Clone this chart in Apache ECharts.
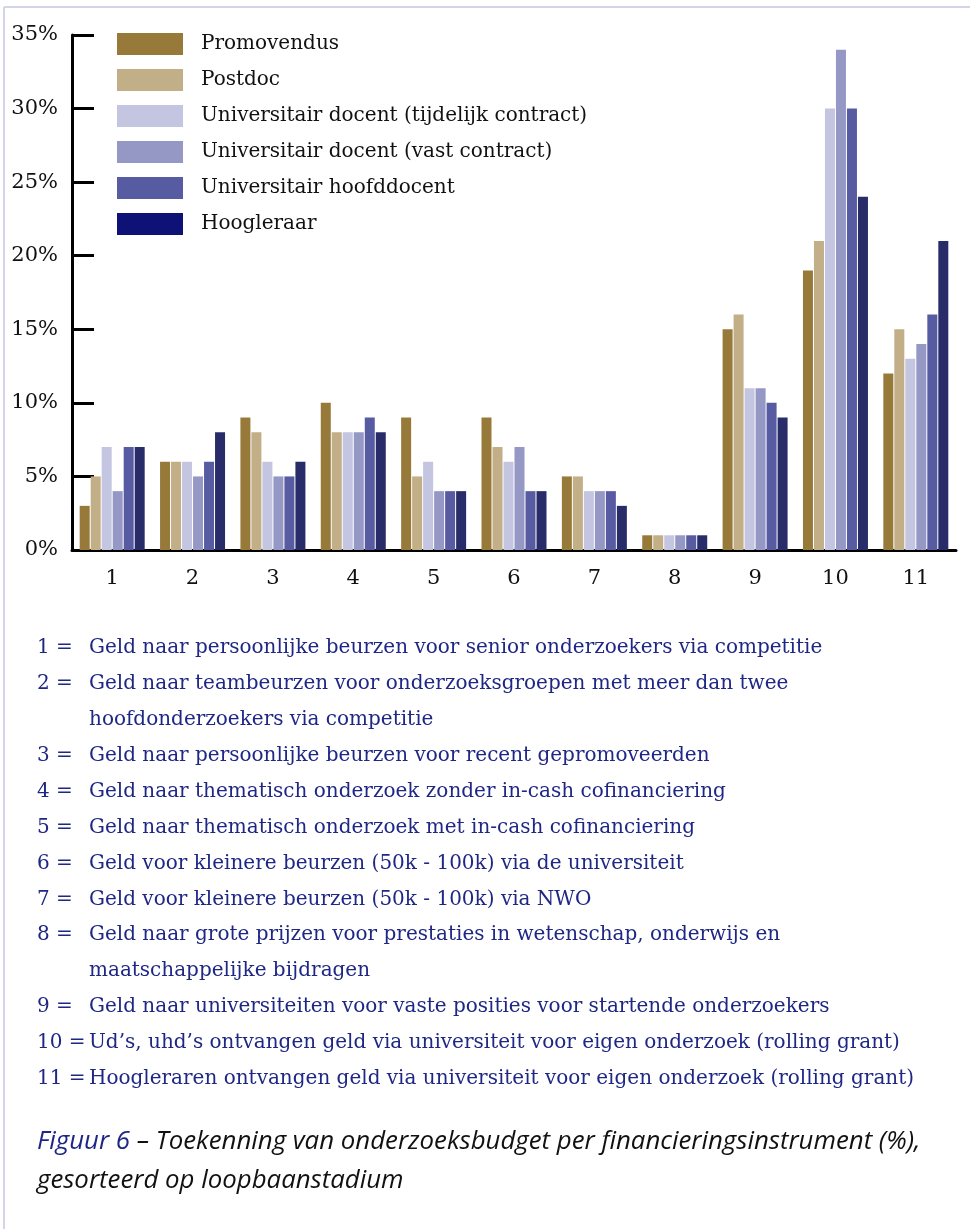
<!DOCTYPE html>
<html>
<head>
<meta charset="utf-8">
<script src="https://cdn.jsdelivr.net/npm/echarts@6/dist/echarts.min.js"></script>
<style>
html,body{margin:0;padding:0;background:#fff;}
#chart{width:970px;height:1229px;}
</style>
</head>
<body>
<div id="chart"></div>
<script>
// ---- data ----
const categories = ['1','2','3','4','5','6','7','8','9','10','11'];
const seriesNames = ['Promovendus','Postdoc','Universitair docent (tijdelijk contract)','Universitair docent (vast contract)','Universitair hoofddocent','Hoogleraar'];
const promovendus = [3,6,9,10,9,9,5,1,15,19,12];
const postdoc     = [5,6,8,8,5,7,5,1,16,21,15];
const udTijdelijk = [7,6,6,8,6,6,4,1,11,30,13];
const udVast      = [4,5,5,8,4,7,4,1,11,34,14];
const uhd         = [7,6,5,9,4,4,4,1,10,30,16];
const hoogleraar  = [7,8,6,8,4,4,3,1,9,24,21];
const yTicks = [0,5,10,15,20,25,30,35];
const footNumbers = ['1 =','2 =','','3 =','4 =','5 =','6 =','7 =','8 =','','9 =','10 =','11 ='];
const footTexts = [
 'Geld naar persoonlijke beurzen voor senior onderzoekers via competitie',
 'Geld naar teambeurzen voor onderzoeksgroepen met meer dan twee',
 'hoofdonderzoekers via competitie',
 'Geld naar persoonlijke beurzen voor recent gepromoveerden',
 'Geld naar thematisch onderzoek zonder in-cash cofinanciering',
 'Geld naar thematisch onderzoek met in-cash cofinanciering',
 'Geld voor kleinere beurzen (50k - 100k) via de universiteit',
 'Geld voor kleinere beurzen (50k - 100k) via NWO',
 'Geld naar grote prijzen voor prestaties in wetenschap, onderwijs en',
 'maatschappelijke bijdragen',
 'Geld naar universiteiten voor vaste posities voor startende onderzoekers',
 'Ud\u2019s, uhd\u2019s ontvangen geld via universiteit voor eigen onderzoek (rolling grant)',
 'Hoogleraren ontvangen geld via universiteit voor eigen onderzoek (rolling grant)'
];
const captionBlue = 'Figuur 6';
const captionLine1 = ' \u2013 Toekenning van onderzoeksbudget per financieringsinstrument (%),';
const captionLine2 = 'gesorteerd op loopbaanstadium';

// ---- styling ----
const barColors = ['#977a3a','#c2ae87','#c4c5e0','#9597c5','#575ba2','#282c68'];
const legendColors = ['#977a3a','#c2ae87','#c4c5e0','#9597c5','#575ba2','#0e1277'];
const serif = '"DejaVu Serif", serif';
const navy = '#1f2785';
const capFont = 'italic 25.8px "Open Sans", sans-serif';
const values = [promovendus, postdoc, udTijdelijk, udVast, uhd, hoogleraar];

const chart = echarts.init(document.getElementById('chart'), null, {renderer:'canvas'});

const graphics = [
  {type:'line', shape:{x1:4,y1:7,x2:970,y2:7}, style:{stroke:'#d3d3ea',lineWidth:2}, silent:true},
  {type:'line', shape:{x1:4,y1:7,x2:4,y2:1229}, style:{stroke:'#d3d3ea',lineWidth:2}, silent:true}
];
footTexts.forEach((t,i)=>{
  const y = 647 + i*35.9;
  if (footNumbers[i]) graphics.push({type:'text', left:37, top:y-9, style:{text:footNumbers[i], font:'20px '+serif, fill:navy}});
  graphics.push({type:'text', left:89, top:y-9, style:{text:t, font:'20px '+serif, fill:navy}});
});
graphics.push({type:'text', left:37, top:1129, style:{
  text:'{b|'+captionBlue+'}{k|'+captionLine1+'}',
  rich:{b:{fill:navy, font:capFont}, k:{fill:'#111', font:capFont}}
}});
graphics.push({type:'text', left:37, top:1168, style:{text:captionLine2, font:capFont, fill:'#111'}});

chart.setOption({
  animation:false,
  backgroundColor:'#fff',
  grid:{left:72, right:14, top:35, bottom:679, containLabel:false},
  legend:{
    orient:'vertical', left:117, top:33, padding:0, itemWidth:66, itemHeight:22, itemGap:14, icon:'rect',
    textStyle:{fontFamily:serif, fontSize:20, color:'#111', padding:[0,0,0,13]},
    data: seriesNames.map((n,i)=>({name:n, itemStyle:{color:legendColors[i]}}))
  },
  xAxis:{
    type:'category', data:categories,
    axisLine:{lineStyle:{color:'#000', width:3}},
    axisTick:{inside:true, length:12, lineStyle:{color:'#000', width:3}},
    axisLabel:{fontFamily:serif, fontSize:21, color:'#111', margin:18}
  },
  yAxis:{
    type:'value', min:0, max:35, interval:5,
    axisLine:{show:true, lineStyle:{color:'#000', width:3}},
    axisTick:{show:true, inside:true, length:22, lineStyle:{color:'#000', width:3}},
    splitLine:{show:false},
    axisLabel:{fontFamily:serif, fontSize:21, color:'#111', margin:14, formatter:'{value}%'}
  },
  series: seriesNames.map((n,i)=>({
    name:n, type:'bar', data:values[i], barWidth:10, barGap:'10%',
    itemStyle:{color:barColors[i]}
  })),
  graphic: graphics
});
</script>
</body>
</html>
